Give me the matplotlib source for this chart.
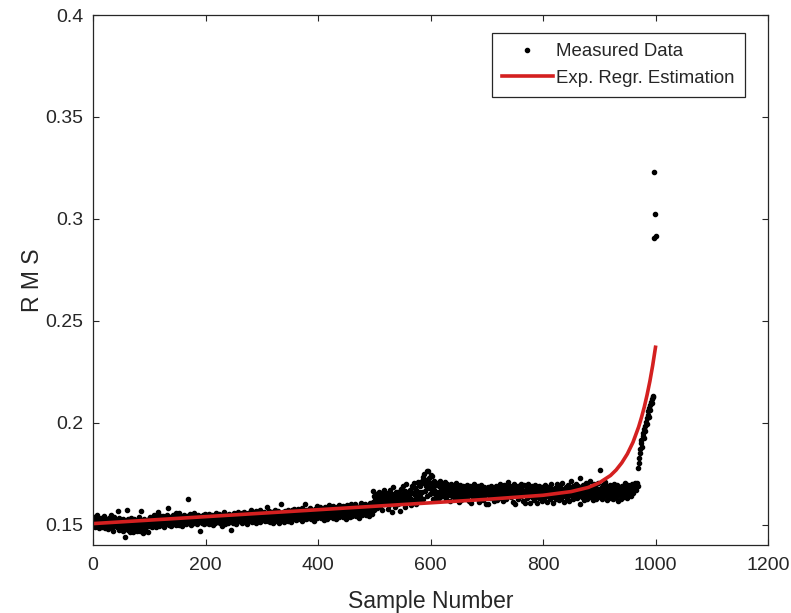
import numpy as np
import matplotlib
matplotlib.use("Agg")
import matplotlib.pyplot as plt

plt.rcParams['font.family'] = ['Liberation Sans', 'DejaVu Sans']

TEXT = '#262626'

# RMS readings, units of 1e-4, one per sample
rms_1_200 = [
    1535, 1498, 1512, 1487, 1521, 1503, 1545, 1492, 1510, 1526, 1481, 1515, 1499, 1532, 1506, 1490, 1519, 1502, 1540, 1495,
    1513, 1484, 1528, 1507, 1496, 1521, 1478, 1533, 1509, 1492, 1517, 1549, 1500, 1486, 1524, 1470, 1511, 1537, 1498, 1505,
    1520, 1489, 1512, 1565, 1495, 1531, 1476, 1508, 1522, 1483, 1502, 1514, 1468, 1527, 1493, 1509, 1441, 1518, 1485, 1572,
    1500, 1474, 1526, 1511, 1462, 1495, 1533, 1507, 1480, 1519, 1465, 1503, 1528, 1490, 1514, 1472, 1498, 1523, 1469, 1508,
    1535, 1488, 1467, 1512, 1566, 1497, 1475, 1521, 1460, 1504, 1529, 1483, 1511, 1471, 1496, 1518, 1464, 1502, 1527, 1491,
    1512, 1538, 1495, 1521, 1486, 1530, 1507, 1548, 1499, 1516, 1526, 1490, 1535, 1509, 1562, 1501, 1523, 1493, 1514, 1541,
    1506, 1529, 1497, 1518, 1543, 1511, 1488, 1533, 1520, 1502, 1546, 1515, 1526, 1580, 1498, 1537, 1509, 1522, 1491, 1531,
    1518, 1545, 1503, 1527, 1512, 1539, 1496, 1558, 1521, 1508, 1532, 1555, 1499, 1524, 1515, 1541, 1506, 1529, 1493, 1536,
    1520, 1547, 1511, 1534, 1502, 1526, 1543, 1628, 1517, 1538, 1509, 1530, 1551, 1497, 1524, 1541, 1513, 1535, 1559, 1506,
    1527, 1544, 1512, 1533, 1503, 1520, 1548, 1516, 1537, 1525, 1471, 1539, 1509, 1530, 1546, 1518, 1502, 1534, 1550, 1521,
]
rms_201_400 = [
    1528, 1545, 1510, 1537, 1519, 1552, 1504, 1531, 1541, 1515, 1526, 1548, 1499, 1535, 1522, 1544, 1508, 1530, 1556, 1517,
    1540, 1512, 1529, 1553, 1506, 1538, 1521, 1547, 1494, 1533, 1518, 1560, 1525, 1502, 1543, 1530, 1514, 1549, 1527, 1509,
    1536, 1552, 1517, 1541, 1525, 1473, 1546, 1510, 1538, 1529, 1557, 1513, 1533, 1548, 1501, 1540, 1524, 1562, 1516, 1535,
    1544, 1520, 1538, 1557, 1509, 1531, 1548, 1525, 1562, 1513, 1536, 1550, 1502, 1541, 1528, 1555, 1517, 1546, 1533, 1570,
    1527, 1549, 1512, 1538, 1560, 1521, 1545, 1533, 1566, 1506, 1540, 1553, 1518, 1547, 1530, 1572, 1514, 1542, 1557, 1525,
    1550, 1528, 1545, 1562, 1516, 1539, 1555, 1531, 1548, 1584, 1520, 1543, 1568, 1512, 1536, 1552, 1526, 1560, 1541, 1507,
    1553, 1533, 1571, 1518, 1546, 1560, 1529, 1542, 1565, 1509, 1537, 1556, 1524, 1548, 1603, 1532, 1562, 1540, 1515, 1551,
    1545, 1568, 1527, 1553, 1539, 1574, 1520, 1548, 1561, 1533, 1556, 1512, 1542, 1570, 1529, 1551, 1577, 1536, 1559, 1522,
    1560, 1538, 1553, 1579, 1527, 1547, 1566, 1532, 1558, 1544, 1581, 1519, 1550, 1563, 1537, 1600, 1541, 1570, 1526, 1556,
    1549, 1572, 1534, 1562, 1545, 1583, 1528, 1555, 1568, 1540, 1561, 1519, 1553, 1577, 1536, 1565, 1548, 1590, 1531, 1559,
]
rms_401_600 = [
    1566, 1541, 1558, 1585, 1532, 1553, 1572, 1546, 1569, 1524, 1561, 1588, 1539, 1557, 1574, 1529, 1563, 1550, 1594, 1537,
    1558, 1580, 1541, 1567, 1552, 1590, 1533, 1561, 1575, 1546, 1570, 1526, 1559, 1584, 1544, 1566, 1598, 1537, 1563, 1553,
    1575, 1549, 1566, 1591, 1538, 1560, 1583, 1552, 1572, 1530, 1564, 1596, 1545, 1569, 1580, 1536, 1571, 1557, 1602, 1543,
    1566, 1589, 1547, 1574, 1560, 1599, 1540, 1568, 1583, 1553, 1578, 1534, 1565, 1592, 1550, 1573, 1606, 1545, 1570, 1561,
    1583, 1556, 1574, 1600, 1548, 1570, 1592, 1562, 1586, 1541, 1577, 1608, 1555, 1580, 1596, 1550, 1666, 1612, 1571, 1640,
    1632, 1598, 1651, 1615, 1580, 1643, 1620, 1662, 1605, 1637, 1590, 1655, 1627, 1572, 1646, 1612, 1668, 1600, 1639, 1618,
    1645, 1608, 1630, 1575, 1657, 1622, 1595, 1670, 1613, 1640, 1562, 1649, 1626, 1683, 1604, 1635, 1587, 1660, 1617, 1642,
    1628, 1660, 1599, 1647, 1568, 1636, 1675, 1611, 1652, 1623, 1690, 1605, 1641, 1584, 1666, 1630, 1697, 1615, 1654, 1621,
    1648, 1610, 1672, 1633, 1595, 1662, 1688, 1621, 1655, 1702, 1617, 1643, 1680, 1603, 1669, 1636, 1711, 1627, 1658, 1694,
    1640, 1689, 1615, 1712, 1658, 1735, 1626, 1702, 1748, 1663, 1720, 1690, 1641, 1761, 1705, 1765, 1678, 1730, 1652, 1744,
]
rms_601_800 = [
    1702, 1663, 1738, 1684, 1626, 1715, 1671, 1650, 1693, 1632, 1660, 1702, 1619, 1648, 1689, 1712, 1635, 1676, 1698, 1655,
    1672, 1694, 1641, 1668, 1710, 1652, 1685, 1627, 1679, 1701, 1645, 1663, 1690, 1618, 1674, 1656, 1699, 1638, 1667, 1683,
    1659, 1690, 1626, 1672, 1648, 1703, 1635, 1665, 1681, 1612, 1654, 1693, 1641, 1676, 1620, 1662, 1687, 1633, 1670, 1651,
    1678, 1640, 1663, 1695, 1628, 1657, 1684, 1615, 1668, 1645, 1690, 1608, 1661, 1677, 1636, 1669, 1700, 1644, 1658, 1682,
    1652, 1673, 1633, 1689, 1648, 1665, 1610, 1680, 1657, 1696, 1639, 1671, 1622, 1660, 1686, 1643, 1667, 1602, 1676, 1650,
    1663, 1600, 1684, 1647, 1672, 1629, 1691, 1655, 1668, 1637, 1680, 1614, 1662, 1675, 1641, 1687, 1653, 1620, 1670, 1658,
    1682, 1644, 1666, 1697, 1631, 1659, 1677, 1616, 1671, 1650, 1693, 1638, 1664, 1685, 1625, 1667, 1709, 1646, 1673, 1655,
    1668, 1691, 1634, 1662, 1679, 1611, 1657, 1700, 1643, 1670, 1602, 1683, 1652, 1666, 1628, 1688, 1645, 1674, 1660, 1699,
    1641, 1669, 1687, 1618, 1663, 1650, 1694, 1604, 1672, 1656, 1681, 1633, 1665, 1701, 1645, 1660, 1605, 1677, 1653, 1688,
    1637, 1664, 1683, 1621, 1658, 1695, 1642, 1670, 1607, 1676, 1650, 1689, 1629, 1661, 1679, 1646, 1668, 1615, 1684, 1655,
]
rms_801_1000 = [
    1669, 1632, 1660, 1692, 1640, 1674, 1613, 1657, 1685, 1648, 1666, 1624, 1679, 1652, 1698, 1636, 1663, 1606, 1671, 1645,
    1680, 1654, 1626, 1668, 1697, 1643, 1661, 1619, 1675, 1650, 1688, 1633, 1665, 1702, 1640, 1658, 1611, 1677, 1647, 1684,
    1656, 1628, 1671, 1695, 1639, 1664, 1616, 1682, 1651, 1716, 1642, 1667, 1625, 1689, 1658, 1635, 1676, 1649, 1700, 1631,
    1662, 1687, 1644, 1673, 1730, 1603, 1659, 1681, 1637, 1668, 1694, 1648, 1621, 1675, 1655, 1703, 1640, 1666, 1628, 1690,
    1652, 1677, 1716, 1634, 1663, 1644, 1685, 1619, 1670, 1657, 1698, 1639, 1667, 1624, 1681, 1649, 1706, 1636, 1661, 1674,
    1770, 1645, 1668, 1627, 1683, 1655, 1692, 1638, 1664, 1710, 1646, 1672, 1621, 1687, 1658, 1640, 1679, 1651, 1696, 1633,
    1666, 1689, 1642, 1671, 1625, 1658, 1700, 1647, 1677, 1636, 1662, 1694, 1652, 1616, 1673, 1644, 1683, 1657, 1628, 1669,
    1691, 1648, 1675, 1637, 1663, 1702, 1651, 1680, 1631, 1667, 1695, 1645, 1672, 1658, 1688, 1641, 1679, 1662, 1698, 1654,
    1685, 1670, 1703, 1676, 1692, 1668, 1706, 1688, 1780, 1803, 1826, 1852, 1871, 1898, 1915, 1882, 1934, 1951, 1927, 1968,
    1982, 1959, 2003, 2021, 1995, 2040, 2058, 2029, 2072, 2086, 2063, 2101, 2118, 2095, 2132, 2124, 2905, 3228, 3025, 2915,
]

# exponential regression curve
fit_x = [0, 100, 200, 300, 400, 500, 600, 700, 800, 850, 880, 900, 920, 930, 940,
         950, 960, 970, 975, 980, 985, 990, 995, 1000]
fit_y = [0.1505, 0.1522, 0.1539, 0.1556, 0.1573, 0.1590, 0.1607, 0.1624, 0.1644,
         0.1662, 0.1682, 0.1705, 0.1741, 0.1768, 0.1803, 0.1847, 0.1904, 0.1979,
         0.2025, 0.2076, 0.2136, 0.2203, 0.2281, 0.2370]

x_ticks = [0, 200, 400, 600, 800, 1000, 1200]
y_ticks = [0.15, 0.2, 0.25, 0.3, 0.35, 0.4]
y_tick_labels = ['0.15', '0.2', '0.25', '0.3', '0.35', '0.4']


def main():
    rms = np.array(rms_1_200 + rms_201_400 + rms_401_600 + rms_601_800 + rms_801_1000) / 10000.0
    sample = np.arange(1, len(rms) + 1)

    fig = plt.figure(figsize=(7.91, 6.13), dpi=100)
    ax = fig.add_axes([93 / 791, 68 / 613, 675 / 791, 530 / 613])

    ax.plot(sample, rms, '.', color='black', markersize=6, label='Measured Data')
    ax.plot(fit_x, fit_y, '-', color='#d42020', linewidth=2.6, label='Exp. Regr. Estimation')

    ax.set_xlim(0, 1200)
    ax.set_ylim(0.14, 0.4)
    ax.set_xticks(x_ticks)
    ax.set_yticks(y_ticks)
    ax.set_yticklabels(y_tick_labels)
    ax.tick_params(direction='in', length=4, width=0.8, colors=TEXT, labelsize=14,
                   top=True, right=True)
    ax.tick_params(axis='x', pad=9)
    ax.tick_params(axis='y', pad=7)
    for sp in ax.spines.values():
        sp.set_color(TEXT)
        sp.set_linewidth(0.9)

    ax.set_xlabel('Sample Number', fontsize=16.5, color=TEXT, labelpad=11)
    ax.set_ylabel('R M S', fontsize=16.5, color=TEXT, labelpad=1)

    leg = ax.legend(loc='upper right', bbox_to_anchor=(0.966, 0.966), fontsize=13.4,
                    numpoints=1, handlelength=2.7, handletextpad=0.2,
                    borderaxespad=0, fancybox=False, framealpha=1,
                    edgecolor=TEXT, borderpad=0.55, labelspacing=0.5)
    leg.get_frame().set_linewidth(0.9)
    for t in leg.get_texts():
        t.set_color(TEXT)

    fig.savefig('out.png', dpi=100)


if __name__ == "__main__":
    main()
